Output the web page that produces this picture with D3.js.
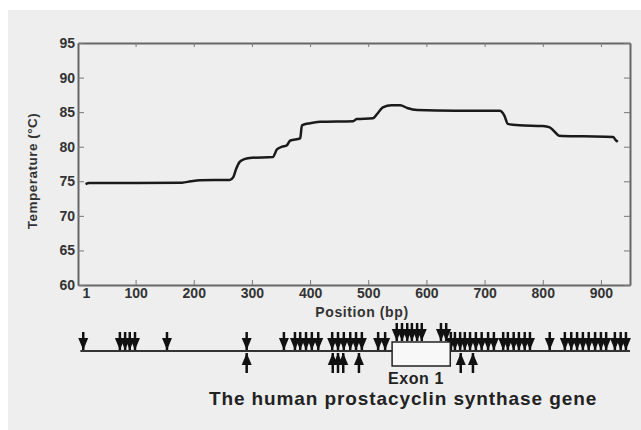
<!DOCTYPE html>
<html>
<head>
<meta charset="utf-8">
<script src="https://cdn.jsdelivr.net/npm/d3@7"></script>
<style>
  body { margin: 0; background: #fff; }
  svg { display: block; font-family: "Liberation Sans", Arial, sans-serif; }
</style>
</head>
<body>
<div id="chart"></div>
<script>
// melting profile (position in bp, temperature in C)
const meltPos  = [14, 20, 100, 180, 195, 210, 262, 268, 273, 279, 287, 300, 336, 343, 352, 360, 366, 383, 386, 400, 417, 474, 480, 508, 515, 525, 540, 555, 567, 584, 650, 726, 734, 740, 760, 800, 812, 820, 828, 870, 921, 925, 929];
const meltTemp = [74.6, 74.75, 74.75, 74.8, 75.0, 75.15, 75.2, 75.6, 76.8, 77.8, 78.2, 78.4, 78.5, 79.6, 80.0, 80.2, 80.9, 81.2, 83.1, 83.4, 83.6, 83.7, 84.0, 84.1, 84.7, 85.7, 86.0, 86.0, 85.6, 85.3, 85.2, 85.2, 84.5, 83.3, 83.1, 83.0, 82.8, 82.2, 81.6, 81.5, 81.4, 81.0, 80.7];

const xTicks = [1, 100, 200, 300, 400, 500, 600, 700, 800, 900];
const yTicks = [60, 65, 70, 75, 80, 85, 90, 95];

// sites along the gene (bp)
const sitesAbove = [10, 73, 82, 90, 99, 154, 291, 355, 374, 383, 393, 403, 414, 438, 448, 458, 469, 479, 489, 517, 529,
  549, 558, 567, 575, 584, 592, 625, 634, 642,
  649, 658, 666, 675, 685, 695, 706, 716, 732, 740, 750, 759, 769, 778, 812,
  838, 849, 859, 869, 879, 890, 900, 909, 924, 934, 943];
const sitesBelow = [291, 439, 448, 457, 484, 659, 680];
const exonStart = 541, exonEnd = 641;

const W = 641, H = 430;
const m = {left: 78, right: 630, top: 43, bottom: 285};

const svg = d3.select("#chart").append("svg").attr("width", W).attr("height", H);

svg.append("rect").attr("x", 8).attr("y", 10).attr("width", W - 8).attr("height", H - 10)
  .attr("fill", "#eeeeee");

const x = d3.scaleLinear().domain([1, 950]).range([m.left, m.right]);
const y = d3.scaleLinear().domain([60, 95]).range([m.bottom, m.top]);

function styleAxis(g) {
  g.selectAll("path.domain").attr("stroke", "#666").attr("stroke-width", 2);
  g.selectAll(".tick line").attr("stroke", "#777").attr("stroke-width", 1);
  g.selectAll(".tick text").attr("fill", "#333").attr("font-size", 14).attr("font-weight", "bold");
}

const xAxisG = svg.append("g").attr("transform", `translate(0,${m.bottom})`)
  .call(d3.axisBottom(x).tickValues(xTicks).tickSize(-5).tickSizeOuter(0).tickPadding(3))
  .call(styleAxis);
xAxisG.selectAll(".tick text").filter(d => d === 1).attr("dx", 8);
svg.append("g").attr("transform", `translate(0,${m.top})`)
  .call(d3.axisTop(x).tickValues(xTicks).tickSize(-4).tickSizeOuter(0).tickFormat(""))
  .call(styleAxis);
svg.append("g").attr("transform", `translate(${m.left},0)`)
  .call(d3.axisLeft(y).tickValues(yTicks).tickSize(-6).tickSizeOuter(0).tickPadding(3))
  .call(styleAxis);
svg.append("g").attr("transform", `translate(${m.right},0)`)
  .call(d3.axisRight(y).tickValues(yTicks).tickSize(-6).tickSizeOuter(0).tickFormat(""))
  .call(styleAxis);

svg.append("text").attr("x", 362).attr("y", 317).attr("text-anchor", "middle")
  .attr("font-size", 14).attr("letter-spacing", 0.6).attr("font-weight", "bold").attr("fill", "#333")
  .text("Position (bp)");
svg.append("text").attr("transform", "translate(37,171) rotate(-90)").attr("text-anchor", "middle")
  .attr("font-size", 13.5).attr("letter-spacing", 0.5).attr("font-weight", "bold").attr("fill", "#333")
  .text("Temperature (°C)");

const line = d3.line().x((d, i) => x(meltPos[i])).y(d => y(d)).curve(d3.curveMonotoneX);
svg.append("path").datum(meltTemp).attr("d", line)
  .attr("fill", "none").attr("stroke", "#1a1a1a").attr("stroke-width", 2.5);

// gene track
const lineY = 351, boxTop = 342, boxBot = 366;
svg.append("line").attr("x1", x(5)).attr("x2", x(950)).attr("y1", lineY).attr("y2", lineY)
  .attr("stroke", "#333").attr("stroke-width", 2);

const inExon = p => p >= exonStart && p <= exonEnd;
const tri = (cx, base, tip) => `M${cx - 5},${base}L${cx + 5},${base}L${cx},${tip}Z`;

svg.append("g").selectAll("g").data(sitesAbove).join("g").each(function(p) {
  const cx = x(p), tip = inExon(p) ? boxTop - 1 : lineY - 1;
  const g = d3.select(this);
  g.append("line").attr("x1", cx).attr("x2", cx).attr("y1", tip - 18).attr("y2", tip)
    .attr("stroke", "#111").attr("stroke-width", 2.5);
  g.append("path").attr("d", tri(cx, tip - 12, tip)).attr("fill", "#111");
});
svg.append("g").selectAll("g").data(sitesBelow).join("g").each(function(p) {
  const cx = x(p), tip = inExon(p) ? boxBot + 1 : lineY + 2;
  const g = d3.select(this);
  g.append("line").attr("x1", cx).attr("x2", cx).attr("y1", tip).attr("y2", tip + 20)
    .attr("stroke", "#111").attr("stroke-width", 2.5);
  g.append("path").attr("d", tri(cx, tip + 12, tip)).attr("fill", "#111");
});

svg.append("rect").attr("x", x(exonStart)).attr("y", boxTop)
  .attr("width", x(exonEnd) - x(exonStart)).attr("height", boxBot - boxTop)
  .attr("fill", "#f8f8f8").attr("stroke", "#222").attr("stroke-width", 1.5);

svg.append("text").attr("x", 416).attr("y", 384).attr("text-anchor", "middle")
  .attr("font-size", 16).attr("letter-spacing", 0.6).attr("font-weight", "bold").attr("fill", "#222")
  .text("Exon 1");
svg.append("text").attr("x", 403).attr("y", 405).attr("text-anchor", "middle")
  .attr("font-size", 19).attr("letter-spacing", 0.9).attr("font-weight", "bold").attr("fill", "#222")
  .text("The human prostacyclin synthase gene");
</script>
</body>
</html>
